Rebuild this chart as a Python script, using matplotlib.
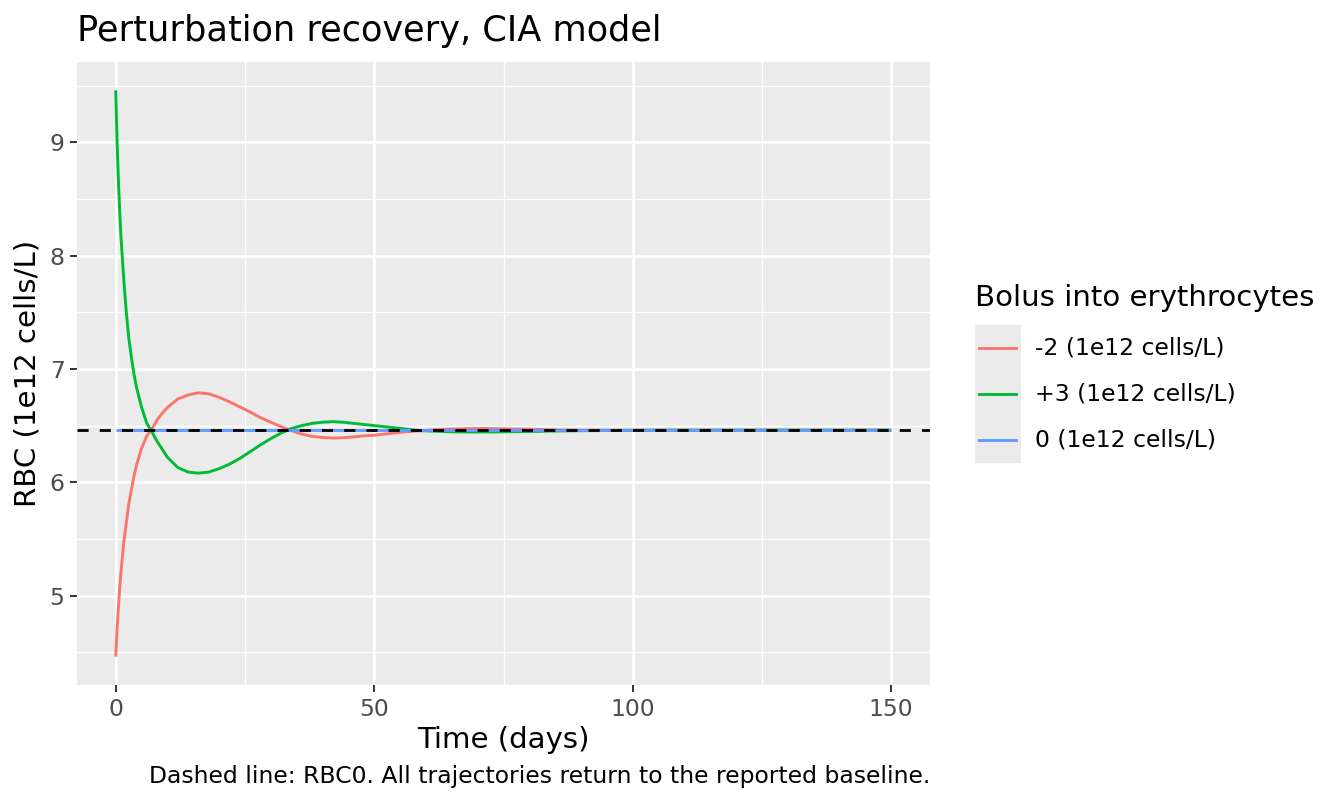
import numpy as np
import matplotlib
matplotlib.use('Agg')
import matplotlib.pyplot as plt
from matplotlib.lines import Line2D
from matplotlib.patches import Rectangle

# values (RBC, 1e12 cells/L)
days = [0, 0.25, 0.5, 0.75, 1, 1.5, 2, 2.5, 3, 3.5, 4, 5, 6, 7, 8, 9, 10,
        12, 14, 16, 18, 20, 22, 24, 26, 28, 30, 32, 34, 36, 38, 40, 42, 44,
        46, 48, 50, 53, 56, 59, 62, 65, 70, 75, 80, 85, 90, 100, 110, 120,
        130, 140, 150]
rbc_minus2 = [4.46, 4.70, 4.89, 5.06, 5.20, 5.45, 5.63, 5.80, 5.93, 6.05,
              6.15, 6.30, 6.41, 6.47, 6.55, 6.61, 6.66, 6.735, 6.77, 6.79,
              6.78, 6.75, 6.71, 6.665, 6.62, 6.57, 6.53, 6.49, 6.455, 6.425,
              6.405, 6.395, 6.39, 6.393, 6.40, 6.41, 6.415, 6.43, 6.445,
              6.455, 6.465, 6.47, 6.475, 6.472, 6.468, 6.463, 6.46, 6.46,
              6.46, 6.46, 6.46, 6.46, 6.46]
rbc_plus3 = [9.46, 9.00, 8.67, 8.40, 8.17, 7.82, 7.52, 7.28, 7.11, 6.96,
             6.84, 6.66, 6.52, 6.445, 6.36, 6.29, 6.22, 6.13, 6.09, 6.08,
             6.09, 6.12, 6.16, 6.21, 6.27, 6.33, 6.385, 6.435, 6.475, 6.50,
             6.52, 6.53, 6.535, 6.53, 6.52, 6.51, 6.50, 6.485, 6.47, 6.455,
             6.45, 6.445, 6.443, 6.445, 6.448, 6.452, 6.455, 6.458, 6.46,
             6.46, 6.46, 6.46, 6.46]
days_zero = [0, 150]
rbc_zero = [6.46, 6.46]
rbc0 = 6.46

series = [
    ('-2 (1e12 cells/L)', days, rbc_minus2, '#F8766D'),
    ('+3 (1e12 cells/L)', days, rbc_plus3, '#00BA38'),
    ('0 (1e12 cells/L)', days_zero, rbc_zero, '#619CFF'),
]

W, H = 1344, 806
fig = plt.figure(figsize=(W / 100, H / 100), dpi=100)
ax = fig.add_axes([77 / W, 1 - 685 / H, (930 - 77) / W, (685 - 62) / H])
ax.set_facecolor('#EBEBEB')
for s in ax.spines.values():
    s.set_visible(False)

for label, x, y, c in series:
    ax.plot(x, y, color=c, lw=2.1, solid_capstyle='butt', zorder=3)
ax.axhline(rbc0, color='black', lw=2.0, ls=(0, (4, 4)), zorder=4)

ax.set_xlim(-7.5, 157.5)
ax.set_ylim(4.21, 9.71)
ax.set_xticks([0, 50, 100, 150])
ax.set_xticks([25, 75, 125], minor=True)
ax.set_yticks([5, 6, 7, 8, 9])
ax.set_yticks([4.5, 5.5, 6.5, 7.5, 8.5, 9.5], minor=True)
ax.grid(which='major', color='white', lw=1.8, zorder=1)
ax.grid(which='minor', color='white', lw=0.95, zorder=1)
ax.set_axisbelow(True)
ax.tick_params(which='major', length=5, width=1.4, color='#333333',
               labelsize=16.9, labelcolor='#4D4D4D', pad=4)
ax.tick_params(which='minor', length=0)


def px(x, y):
    return x / W, 1 - y / H


fig.text(*px(77, 41), 'Perturbation recovery, CIA model', fontsize=25.3,
         ha='left', va='baseline')
fig.text(*px(503, 740), 'Time (days)', fontsize=21.1, ha='center', va='center')
fig.text(*px(28, 373), 'RBC (1e12 cells/L)', fontsize=21.1, ha='center',
         va='center', rotation=90)
fig.text(*px(930, 777), 'Dashed line: RBC0. All trajectories return to the reported baseline.',
         fontsize=16.9, ha='right', va='center')

# legend, ggplot style
fig.text(*px(975, 298), 'Bolus into erythrocytes', fontsize=21.1,
         ha='left', va='center')
key_h = 46
top = 325
fig.add_artist(Rectangle(px(975, top + 3 * key_h), 46 / W, 3 * key_h / H,
                         transform=fig.transFigure, facecolor='#EBEBEB',
                         edgecolor='none'))
for i, (label, x, y, c) in enumerate(series):
    yc = top + key_h * (i + 0.5)
    x0, y0 = px(979, yc)
    x1, _ = px(1016, yc)
    fig.add_artist(Line2D([x0, x1], [y0, y0], transform=fig.transFigure,
                          color=c, lw=2.1))
    fig.text(*px(1035, yc), label, fontsize=16.9, ha='left', va='center')

fig.savefig('out.png', dpi=100)
